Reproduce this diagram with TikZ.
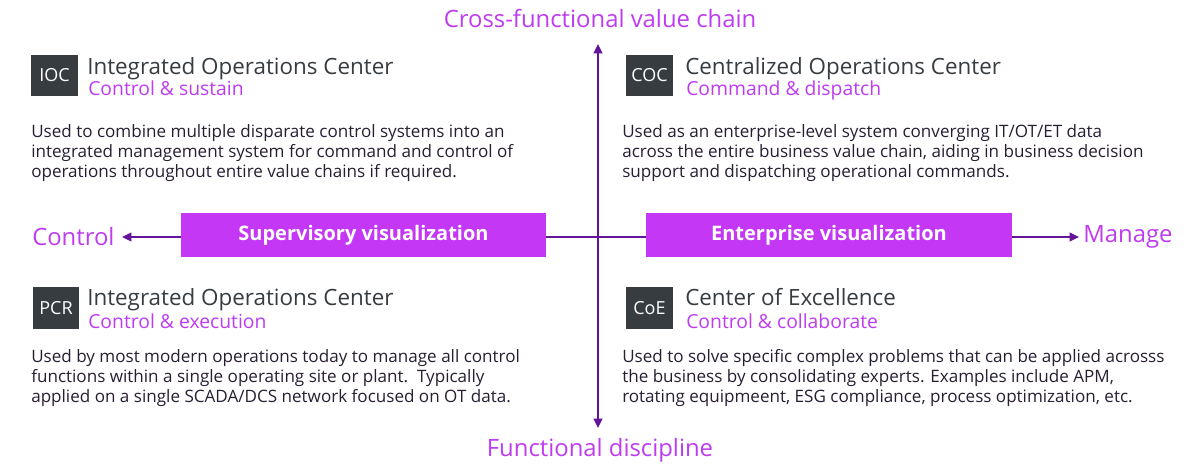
\documentclass[tikz,border=0pt]{standalone}
\usepackage{fontspec}
\setmainfont{Open Sans}
\usepackage{tikz}
\usetikzlibrary{arrows.meta}
\usetikzlibrary{calc}

\definecolor{accent}{RGB}{190,60,240}
\definecolor{bandfill}{RGB}{195,55,245}
\definecolor{axisline}{RGB}{100,20,150}
\definecolor{tagfill}{RGB}{55,60,65}
\definecolor{bodytext}{RGB}{40,30,50}

\begin{document}
\begin{tikzpicture}[x=0.75pt, y=-0.75pt,
        tag_style/.style={fill=tagfill,text=white,minimum width=35pt,minimum height=31pt,inner sep=0pt,font=\fontsize{13.5}{15}\selectfont},
        title_style/.style={anchor=base west,inner sep=0pt,text=tagfill,font=\fontsize{16.8}{19}\selectfont},
        sub_style/.style={anchor=base west,inner sep=0pt,text=accent,font=\fontsize{14.5}{16}\selectfont},
        body_style/.style={anchor=base west,inner sep=0pt,align=left,text=bodytext,font=\fontsize{12.8}{15}\selectfont},
        axis_label_style/.style={inner sep=0pt,text=accent,font=\fontsize{17.9}{20}\selectfont},
        band_style/.style={fill=bandfill,text=white,minimum width=274pt,minimum height=33pt,inner sep=0pt,font=\bfseries\fontsize{15}{17}\selectfont},
        axis_style/.style={draw=axisline, line width=1.5pt, {Triangle[length=7pt,width=6.5pt]}-{Triangle[length=7pt,width=6.5pt]}}]

        \useasboundingbox (0,0) rectangle (1200,472);

        % axes
        \node [axis_label_style](north) at (600,18) {Cross-functional value chain};

        \node [axis_label_style](south) at (600,450) {Functional discipline};

        \node [axis_label_style,anchor=west](west) at (32,237) {Control};

        \node [axis_label_style,anchor=west](east) at (1083,237) {Manage};

        \coordinate (n_tip) at (598,44);
        \coordinate (s_tip) at (598,428);
        \coordinate (w_tip) at (122,237);
        \coordinate (e_tip) at (1079,237);

        \draw [axis_style] (n_tip) -- (s_tip);

        \draw [axis_style] (w_tip) -- (e_tip);

        \node [band_style](sup) at (363.5,235) {Supervisory visualization};

        \node [band_style](ent) at (829,235) {Enterprise visualization};

        % top left
        \node [tag_style](ioc) at (54.5,75.5) {IOC};

        \node [title_style](ioc_t) at (87,74) {Integrated Operations Center};

        \node [sub_style](ioc_s) at (88,95) {Control \& sustain};

        \node [body_style](ioc_b) at (31,177) {Used to combine multiple disparate control systems into an\\integrated management system for command and control of\\operations throughout entire value chains if required.};

        % top right
        \node [tag_style](coc) at (649.5,75.5) {COC};

        \node [title_style](coc_t) at (685,74) {Centralized Operations Center};

        \node [sub_style](coc_s) at (686,95) {Command \& dispatch};

        \node [body_style](coc_b) at (622,177) {Used as an enterprise-level system converging IT/OT/ET data\\across the entire business value chain, aiding in business decision\\support and dispatching operational commands.};

        % bottom left
        \node [tag_style](pcr) at (56,308) {PCR};

        \node [title_style](pcr_t) at (87,305) {Integrated Operations Center};

        \node [sub_style](pcr_s) at (88,328) {Control \& execution};

        \node [body_style](pcr_b) at (31,402) {Used by most modern operations today to manage all control\\functions within a single operating site or plant.\ \ Typically\\applied on a single SCADA/DCS network focused on OT data.};

        % bottom right
        \node [tag_style](coe) at (649.5,308) {CoE};

        \node [title_style](coe_t) at (685,305) {Center of Excellence};

        \node [sub_style](coe_s) at (686,328) {Control \& collaborate};

        \node [body_style](coe_b) at (622,402) {Used to solve specific complex problems that can be applied acrosss\\the business by consolidating experts. Examples include APM,\\rotating equipmeent, ESG compliance, process optimization, etc.};

\end{tikzpicture}
\end{document}
